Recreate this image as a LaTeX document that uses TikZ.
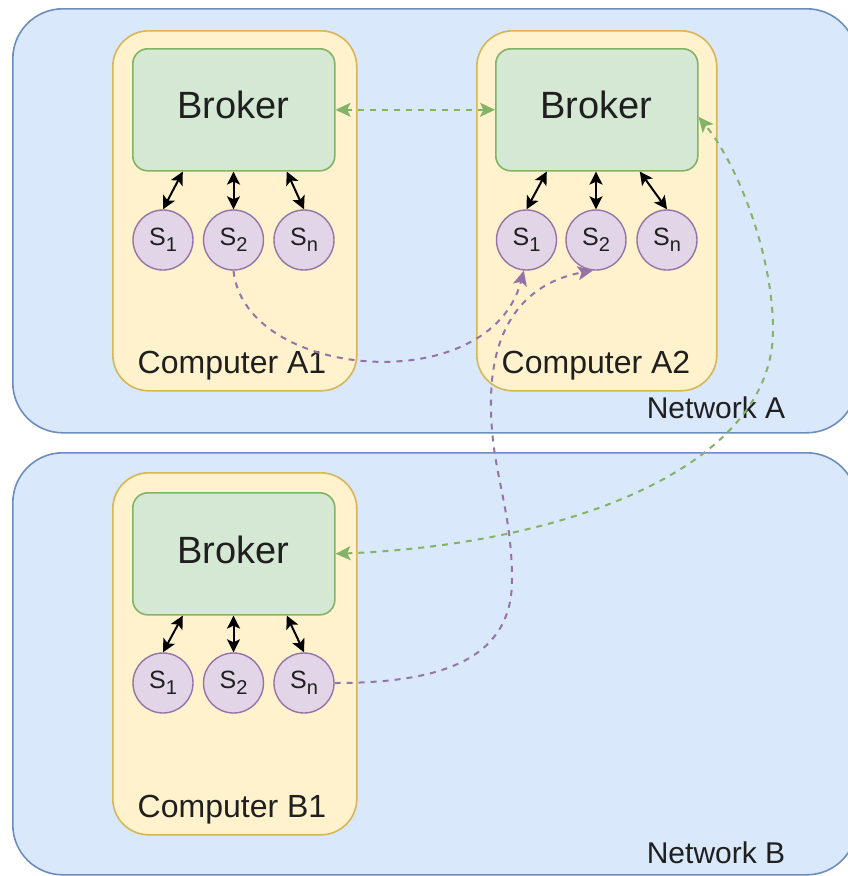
\documentclass[tikz,border=0pt]{standalone}
\usepackage{fontspec}
\setmainfont{Liberation Sans}
\usetikzlibrary{arrows.meta,calc}

\definecolor{netfill}{HTML}{DAE8FC}
\definecolor{netline}{HTML}{6C8EBF}
\definecolor{pcfill}{HTML}{FFF2CC}
\definecolor{pcline}{HTML}{D6B656}
\definecolor{brkfill}{HTML}{D5E8D4}
\definecolor{brkline}{HTML}{82B366}
\definecolor{svcfill}{HTML}{E1D5E7}
\definecolor{svcline}{HTML}{9673A6}

\newcommand{\svc}[1]{S\raisebox{-6.5pt}{\fontsize{20}{20}\selectfont #1}}

\begin{document}
\begin{tikzpicture}[x=1pt,y=-1pt,
  box/.style={rectangle, inner sep=0pt, anchor=north west},
  network/.style={box, draw=netline, fill=netfill, line width=1.6pt,
    rounded corners=50pt, minimum width=844pt},
  computer/.style={box, draw=pcline, fill=pcfill, line width=1.6pt,
    rounded corners=36pt, minimum height=360pt},
  broker/.style={box, draw=brkline, fill=brkfill, line width=1.6pt,
    rounded corners=15pt, minimum width=202pt, minimum height=122pt},
  brokertext/.style={font=\fontsize{38}{38}\selectfont, text=black!88},
  service/.style={circle, draw=svcline, fill=svcfill, line width=1.4pt,
    minimum size=60pt, inner sep=0pt, font=\fontsize{25}{25}\selectfont,
    text=black!88},
  caption/.style={font=\fontsize{30}{30}\selectfont, text=black!88},
  pccaption/.style={font=\fontsize{32}{32}\selectfont, text=black!88},
  link/.style={line width=2pt, black,
    {Stealth[length=13pt,width=13pt,inset=3pt]}-{Stealth[length=13pt,width=13pt,inset=3pt]}},
  greenlink/.style={line width=2pt, draw=brkline, dash pattern=on 6pt off 6pt,
    {Stealth[length=15pt,width=14pt,inset=3.5pt,fill=brkline]}-{Stealth[length=15pt,width=14pt,inset=3.5pt,fill=brkline]}},
  purplelink/.style={line width=2pt, draw=svcline, dash pattern=on 6pt off 6pt,
    -{Stealth[length=15pt,width=14pt,inset=3.5pt,fill=svcline]}},
]
\useasboundingbox (0,0) rectangle (848,876);
\clip (0,0) rectangle (848,876);

% networks
\node[network, minimum height=424pt] (netA) at (12,8) {};
\node[network, minimum height=422pt] (netB) at (12,452) {};
\node[caption] (netAlabel) at (716,408) {Network A};
\node[caption] (netBlabel) at (716,853) {Network B};

% computers
\node[computer, minimum width=244pt] (pcA1) at (112,30) {};
\node[computer, minimum width=240pt] (pcA2) at (476,30) {};
\node[computer, minimum width=244pt, minimum height=362pt] (pcB1) at (112,472) {};
\node[pccaption] (pcA1label) at (232,366) {Computer A1};
\node[pccaption] (pcA2label) at (596,366) {Computer A2};
\node[pccaption] (pcB1label) at (232,810) {Computer B1};

% brokers
\node[broker] (a1broker) at (132,48) {};
\node[broker] (a2broker) at (495,48) {};
\node[broker] (b1broker) at (132,492) {};
\node[brokertext] (a1brokertext) at (233,105) {Broker};
\node[brokertext] (a2brokertext) at (596,105) {Broker};
\node[brokertext] (b1brokertext) at (233,550) {Broker};

% services
\node[service] (a1s1) at (163,240) {\svc{1}};
\node[service] (a1s2) at (233.5,240) {\svc{2}};
\node[service] (a1sn) at (304,240) {\svc{n}};
\node[service] (a2s1) at (526.5,240) {\svc{1}};
\node[service] (a2s2) at (596,240) {\svc{2}};
\node[service] (a2sn) at (667,240) {\svc{n}};
\node[service] (b1s1) at (163,683) {\svc{1}};
\node[service] (b1s2) at (233.5,683) {\svc{2}};
\node[service] (b1sn) at (304,683) {\svc{n}};

% broker <-> service links
\draw[link] ($(a1broker.south)+(-51,0)$) -- (a1s1.north);
\draw[link] (a1broker.south -| a1s2.north) -- (a1s2.north);
\draw[link] ($(a1broker.south)+(53,0)$) -- (a1sn.north);
\draw[link] ($(a2broker.south)+(-50,0)$) -- (a2s1.north);
\draw[link] (a2broker.south -| a2s2.north) -- (a2s2.north);
\draw[link] ($(a2broker.south)+(43,0)$) -- (a2sn.north);
\draw[link] ($(b1broker.south)+(-51,0)$) -- (b1s1.north);
\draw[link] (b1broker.south -| b1s2.north) -- (b1s2.north);
\draw[link] ($(b1broker.south)+(53,0)$) -- (b1sn.north);

% broker <-> broker links
\draw[greenlink] (a1broker.east) -- (a2broker.west);
\draw[greenlink] (b1broker.east) .. controls (560,545) and (773,470) .. (773,330)
  .. controls (773,255) and (738,165) .. (a2broker.-4);

% service to service links
\draw[purplelink] (a1s2.south) .. controls (245,380) and (490,400) .. (a2s1.-95);
\draw[purplelink] (b1sn.east) .. controls (440,683) and (512,660) .. (512,580)
  .. controls (512,505) and (490,470) .. (491,400)
  .. controls (492,310) and (540,280) .. (a2s2.-96);
\end{tikzpicture}
\end{document}
